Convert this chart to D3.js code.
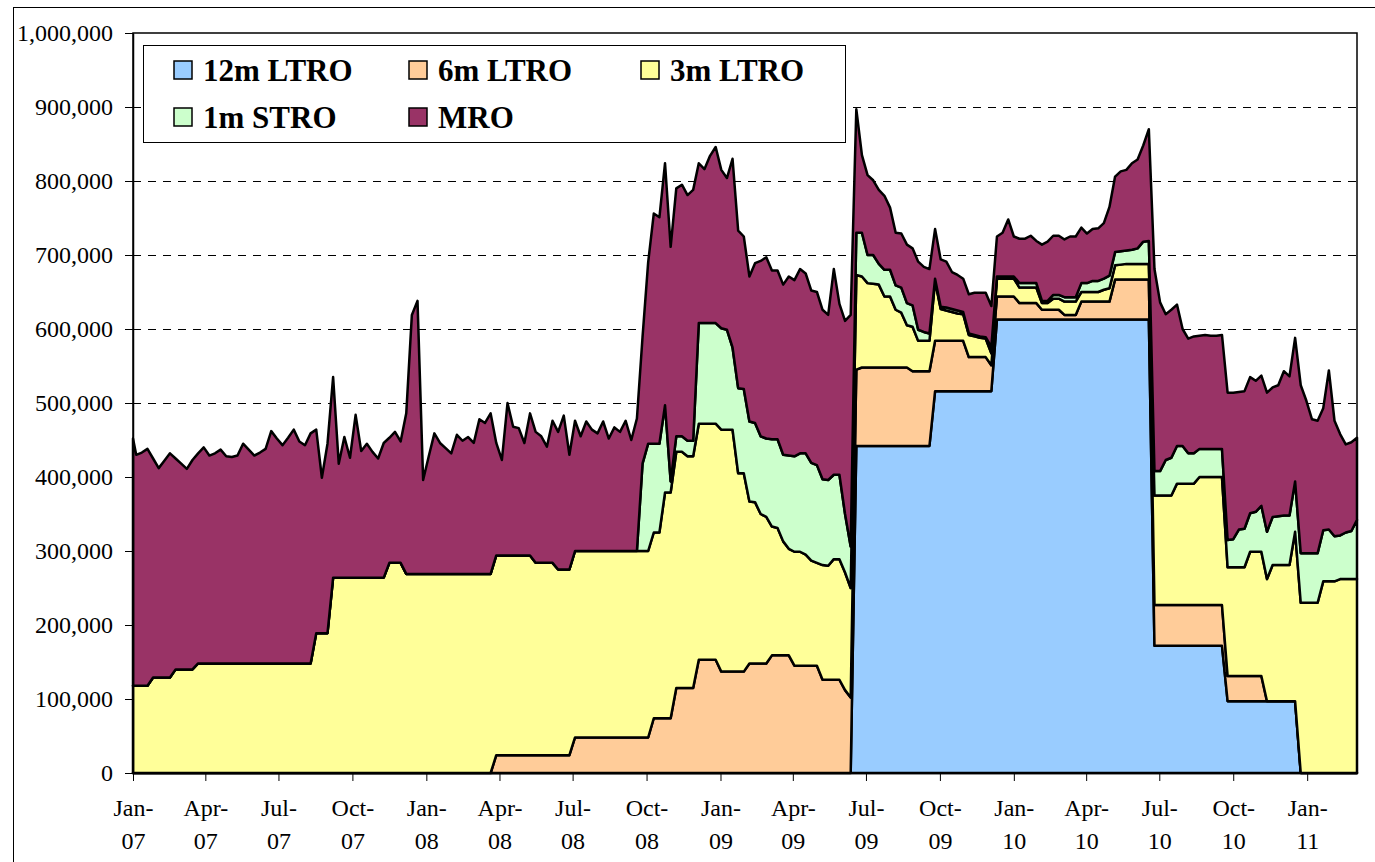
<!DOCTYPE html>
<html>
<head>
<meta charset="utf-8">
<script src="https://cdn.jsdelivr.net/npm/d3@7"></script>
<style>
  body { margin: 0; background: #ffffff; }
  svg { display: block; }
</style>
</head>
<body>
<div id="wrapper"></div>
<script>

// 1. Data (thousands of EUR millions, e.g. 430 = 430,000)

// first point is 1 Jan 2007, then every Friday up to 4 Mar 2011
const firstDay = "2007-01-01";
const firstFriday = "2007-01-05";
const lastFriday = "2011-03-04";

const seriesNames = ["12m LTRO", "6m LTRO", "3m LTRO", "1m STRO", "MRO"];
const seriesColors = ["#99ccff", "#ffcc99", "#ffff99", "#ccffcc", "#993366"];

const yTickValues = [0, 100000, 200000, 300000, 400000, 500000, 600000, 700000, 800000, 900000, 1000000];

// rows of ten weeks, after the 1 Jan value
const ltro12m = [
  0,
  0,0,0,0,0,0,0,0,0,0,
  0,0,0,0,0,0,0,0,0,0,
  0,0,0,0,0,0,0,0,0,0,
  0,0,0,0,0,0,0,0,0,0,
  0,0,0,0,0,0,0,0,0,0,
  0,0,0,0,0,0,0,0,0,0,
  0,0,0,0,0,0,0,0,0,0,
  0,0,0,0,0,0,0,0,0,0,
  0,0,0,0,0,0,0,0,0,0,
  0,0,0,0,0,0,0,0,0,0,
  0,0,0,0,0,0,0,0,0,0,
  0,0,0,0,0,0,0,0,0,0,
  0,0,0,0,0,0,0,0,442,442,
  442,442,442,442,442,442,442,442,442,442,
  442,442,516,516,516,516,516,516,516,516,
  516,516,516,613,613,613,613,613,613,613,
  613,613,613,613,613,613,613,613,613,613,
  613,613,613,613,613,613,613,613,613,613,
  613,172,172,172,172,172,172,172,172,172,
  172,172,172,172,97,97,97,97,97,97,
  97,97,97,97,97,97,97,0,0,0,
  0,0,0,0,0,0,0,0
];

const ltro6m = [
  0,
  0,0,0,0,0,0,0,0,0,0,
  0,0,0,0,0,0,0,0,0,0,
  0,0,0,0,0,0,0,0,0,0,
  0,0,0,0,0,0,0,0,0,0,
  0,0,0,0,0,0,0,0,0,0,
  0,0,0,0,0,0,0,0,0,0,
  0,0,0,0,24,24,24,24,24,24,
  24,24,24,24,24,24,24,24,48,48,
  48,48,48,48,48,48,48,48,48,48,
  48,48,74,74,74,74,115,115,115,115,
  153,153,153,153,137,137,137,137,137,148,
  148,148,148,159,159,159,159,145,145,145,
  145,145,126,126,126,126,112,102,103,106,
  106,106,106,106,106,106,106,106,101,101,
  101,101,68,68,68,68,68,68,46,46,
  46,46,35,31,31,31,31,22,22,22,
  22,13,13,13,13,6,6,6,24,24,
  24,24,24,24,54,54,54,54,54,54,
  54,55,55,55,55,55,55,55,55,55,
  55,55,55,55,34,34,34,34,34,34,
  34,0,0,0,0,0,0,0,0,0,
  0,0,0,0,0,0,0,0
];

const ltro3m = [
  118,
  118,118,118,129,129,129,129,140,140,140,
  140,148,148,148,148,148,148,148,148,148,
  148,148,148,148,148,148,148,148,148,148,
  148,148,189,189,189,264,264,264,264,264,
  264,264,264,264,264,284,284,284,269,269,
  269,269,269,269,269,269,269,269,269,269,
  269,269,269,269,270,270,270,270,270,270,
  270,260,260,260,260,251,251,251,252,252,
  252,252,252,252,252,252,252,252,252,252,
  252,252,251,251,305,305,319,319,313,313,
  319,319,319,319,327,327,327,268,268,219,
  218,202,198,174,172,154,144,154,154,150,
  142,139,155,154,163,163,159,148,128,123,
  114,113,112,96,96,78,74,57,60,41,
  41,41,81,43,41,39,37,36,30,28,
  26,25,16,24,24,24,24,21,21,21,
  21,9,9,15,15,18,18,18,13,13,
  13,13,16,18,19,20,21,21,21,21,
  21,148,148,148,148,164,164,164,164,173,
  173,173,173,173,147,147,147,147,168,168,
  168,165,184,184,184,184,229,230,230,230,
  230,259,259,259,262,262,262,262
];

const stro1m = [
  0,
  0,0,0,0,0,0,0,0,0,0,
  0,0,0,0,0,0,0,0,0,0,
  0,0,0,0,0,0,0,0,0,0,
  0,0,0,0,0,0,0,0,0,0,
  0,0,0,0,0,0,0,0,0,0,
  0,0,0,0,0,0,0,0,0,0,
  0,0,0,0,0,0,0,0,0,0,
  0,0,0,0,0,0,0,0,0,0,
  0,0,0,0,0,0,0,0,0,0,
  118,145,120,120,118,15,21,21,21,21,
  136,136,136,136,137,135,111,115,114,108,
  107,105,106,118,120,117,126,129,133,137,
  132,132,116,116,114,114,79,56,57,59,
  38,39,28,36,36,33,34,30,29,15,
  12,10,3,3,4,4,4,3,2,2,
  2,2,9,3,3,3,3,6,6,6,
  6,3,3,5,5,6,6,6,12,12,
  15,15,15,17,18,18,18,19,21,30,
  31,33,33,48,51,51,51,41,41,38,
  38,38,38,38,37,38,51,52,52,54,
  62,64,65,66,67,67,68,67,67,67,
  67,69,70,61,59,63,65,80
];

const mro = [
  334,
  312,315,320,296,283,293,303,285,278,271,
  283,284,292,281,284,289,280,279,281,297,
  289,281,285,290,314,304,295,305,316,300,
  295,311,275,210,256,271,154,190,162,220,
  171,181,170,161,182,169,177,164,217,350,
  369,127,159,190,177,170,163,188,180,185,
  177,209,204,217,152,129,206,174,172,152,
  192,177,171,157,192,186,208,155,176,155,
  175,164,159,175,152,167,161,176,150,179,
  171,245,311,306,327,317,335,340,332,339,
  216,208,226,238,214,205,255,213,206,196,
  216,237,245,228,228,230,242,238,249,243,
  233,234,229,223,278,231,261,313,167,105,
  108,101,100,100,84,71,73,79,77,92,
  88,87,67,64,62,50,48,45,53,57,
  59,60,55,54,59,77,54,60,60,64,
  57,76,80,80,80,78,82,82,75,67,
  70,71,75,93,102,108,109,117,120,130,
  151,273,228,197,200,191,158,155,158,153,
  154,153,153,154,199,198,186,186,184,177,
  176,188,175,177,195,188,194,227,206,181,
  179,165,215,156,137,119,120,111
];

async function drawChart() {

  const parseDate = d3.utcParse("%Y-%m-%d");
  const dates = [parseDate(firstDay)].concat(
    d3.utcFriday.range(parseDate(firstFriday), d3.utcDay.offset(parseDate(lastFriday), 1))
  );

  const columns = [ltro12m, ltro6m, ltro3m, stro1m, mro];
  const dataset = dates.map((date, i) => {
    const row = { date };
    seriesNames.forEach((name, s) => { row[name] = columns[s][i] * 1000; });
    return row;
  });

  const dateAccessor = d => d.data.date;

  // 2. Dimensions

  const dimensions = {
    width: 1375,
    height: 862,
    margin: { top: 33, right: 18, bottom: 89, left: 133 },
  };
  dimensions.boundedWidth = dimensions.width - dimensions.margin.left - dimensions.margin.right;
  dimensions.boundedHeight = dimensions.height - dimensions.margin.top - dimensions.margin.bottom;

  // 3. Canvas

  const wrapper = d3.select("#wrapper")
    .append("svg")
      .attr("width", dimensions.width)
      .attr("height", dimensions.height);

  wrapper.append("rect")
      .attr("x", 13.5)
      .attr("y", 7.5)
      .attr("width", 1400)
      .attr("height", 900)
      .attr("fill", "none")
      .attr("stroke", "#000")
      .attr("stroke-width", 1);

  const bounds = wrapper.append("g")
      .attr("transform", `translate(${dimensions.margin.left},${dimensions.margin.top})`);

  // 4. Scales

  const xScale = d3.scaleUtc()
      .domain(d3.extent(dates))
      .range([0, dimensions.boundedWidth]);

  const yScale = d3.scaleLinear()
      .domain([0, 1000000])
      .range([dimensions.boundedHeight, 0]);

  // gridlines under the areas
  bounds.append("g")
    .selectAll("line")
    .data(yTickValues.filter(v => v > 0 && v < 1000000))
    .join("line")
      .attr("x1", 0)
      .attr("x2", dimensions.boundedWidth)
      .attr("y1", d => yScale(d) + 0.5)
      .attr("y2", d => yScale(d) + 0.5)
      .attr("stroke", "#000")
      .attr("stroke-width", 1)
      .attr("stroke-dasharray", "8,7");

  // 5. Stacked areas

  const layers = d3.stack().keys(seriesNames)(dataset);

  const areaGenerator = d3.area()
      .x(d => xScale(dateAccessor(d)))
      .y0(d => yScale(d[0]))
      .y1(d => yScale(d[1]));

  bounds.append("g")
    .selectAll("path")
    .data(layers)
    .join("path")
      .attr("d", areaGenerator)
      .attr("fill", (d, i) => seriesColors[i])
      .attr("stroke", "#000")
      .attr("stroke-width", 2.5)
      .attr("stroke-linejoin", "round");

  // plot frame
  bounds.append("rect")
      .attr("x", 0)
      .attr("y", 0)
      .attr("width", dimensions.boundedWidth)
      .attr("height", dimensions.boundedHeight)
      .attr("fill", "none")
      .attr("stroke", "#000")
      .attr("stroke-width", 1.5);

  // 6. Axes

  const yAxis = d3.axisLeft(yScale)
      .tickValues(yTickValues)
      .tickFormat(d3.format(","))
      .tickSize(8)
      .tickSizeOuter(0)
      .tickPadding(12);

  bounds.append("g")
      .call(yAxis)
      .attr("font-family", "'Liberation Serif', 'Times New Roman', serif")
      .attr("font-size", 24)
      .call(g => g.select(".domain").attr("stroke-width", 1.5))
      .call(g => g.selectAll(".tick text").attr("fill", "#000"));

  const quarterTicks = d3.utcMonth.every(3).range(dates[0], d3.utcDay.offset(dates[dates.length - 1], 1));
  const monthFormat = d3.utcFormat("%b");
  const yearFormat = d3.utcFormat("%y");

  const xAxis = d3.axisBottom(xScale)
      .tickValues(quarterTicks)
      .tickFormat("")
      .tickSize(8)
      .tickSizeOuter(0);

  const xAxisGroup = bounds.append("g")
      .attr("transform", `translate(0,${dimensions.boundedHeight})`)
      .call(xAxis)
      .attr("font-family", "'Liberation Serif', 'Times New Roman', serif")
      .attr("font-size", 24)
      .call(g => g.select(".domain").attr("stroke-width", 1.5));

  xAxisGroup.selectAll(".tick").append("text")
      .attr("y", 43)
      .attr("fill", "#000")
      .attr("text-anchor", "middle")
      .text(d => monthFormat(d) + "-");

  xAxisGroup.selectAll(".tick").append("text")
      .attr("y", 76)
      .attr("fill", "#000")
      .attr("text-anchor", "middle")
      .text(d => yearFormat(d));

  // legend
  const legend = wrapper.append("g");

  legend.append("rect")
      .attr("x", 143.5)
      .attr("y", 45.5)
      .attr("width", 702)
      .attr("height", 97)
      .attr("fill", "#fff")
      .attr("stroke", "#000")
      .attr("stroke-width", 1);

  const legendCols = [174, 409, 641];
  const legendRows = [61, 108];

  const items = legend.selectAll("g.item")
    .data(seriesNames)
    .join("g")
      .attr("class", "item")
      .attr("transform", (d, i) => `translate(${legendCols[i % 3]},${legendRows[Math.floor(i / 3)]})`);

  items.append("rect")
      .attr("width", 18)
      .attr("height", 18)
      .attr("fill", (d, i) => seriesColors[i])
      .attr("stroke", "#000")
      .attr("stroke-width", 1.5);

  items.append("text")
      .attr("x", 29)
      .attr("y", 20)
      .attr("font-family", "'Liberation Serif', 'Times New Roman', serif")
      .attr("font-weight", "bold")
      .attr("font-size", 31)
      .attr("fill", "#000")
      .text(d => d);
}
drawChart();
</script>
</body>
</html>
